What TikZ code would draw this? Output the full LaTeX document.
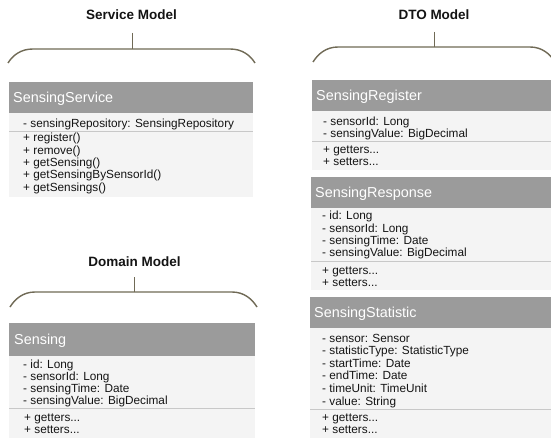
\documentclass[tikz,border=0pt]{standalone}
\usepackage{fontspec}
\setmainfont{Liberation Sans}
\definecolor{headgray}{RGB}{155,155,155}
\definecolor{bodygray}{RGB}{244,244,244}
\definecolor{sepgray}{RGB}{200,200,200}
\definecolor{bracecol}{RGB}{112,106,86}
\definecolor{txt}{RGB}{20,20,20}
\tikzset{
  titletext/.style={font=\bfseries\fontsize{13.5}{15}\selectfont, text=txt, anchor=base, inner sep=0pt},
  headbox/.style={fill=headgray, draw=none, anchor=north west, inner sep=0pt},
  bodybox/.style={fill=bodygray, draw=none, anchor=north west, inner sep=0pt},
  headtext/.style={font=\fontsize{14.4}{16}\selectfont, text=white, anchor=base west, inner sep=0pt},
  linetext/.style={font=\fontsize{11.8}{12.3}\selectfont, text=txt, anchor=base west, inner sep=0pt},
  sepline/.style={draw=sepgray, line width=0.8pt},
  bracepath/.style={draw=bracecol, line width=1.4pt},
  stempath/.style={draw=bracecol, line width=1pt},
}
\begin{document}
\begin{tikzpicture}[x=1pt,y=-1pt]
\path[use as bounding box] (0,0) rectangle (551,438);
\clip (0,0) rectangle (551,438);
\fill[white] (0,0) rectangle (551,438);

% ================= Service Model =================
\node[titletext] (svc-title) at (131.5,19.8) {Service Model};
\coordinate (svc-stem) at (132,33);
\coordinate (svc-top) at (132,49);
\coordinate (svc-bl) at (8,63);
\coordinate (svc-br) at (255,63);
\draw[bracepath] (svc-bl) .. controls (13,55) and (21,49) .. (33,49) -- (230,49) .. controls (242,49) and (250,55) .. (svc-br);
\draw[stempath] (svc-stem) -- (svc-top);

\node[bodybox, minimum width=244pt, minimum height=84pt] (svc-body) at (9,113) {};
\node[headbox, minimum width=244pt, minimum height=31pt] (svc-head) at (9,82) {};
\node[headtext] (svc-name) at (13,102.5) {SensingService};
\node[linetext] (svc-a1) at (23,128) {- sensingRepository: SensingRepository};
\coordinate (svc-s1) at (9,131.5);
\coordinate (svc-s2) at (253,131.5);
\draw[sepline] (svc-s1) -- (svc-s2);
\foreach \t [count=\i] in {+ register(), + remove(), + getSensing(), + getSensingBySensorId(), + getSensings()}
  \node[linetext] (svc-m\i) at (23,{142+(\i-1)*12.3}) {\t};

% ================= Domain Model =================
\node[titletext] (dom-title) at (134.5,266.8) {Domain Model};
\coordinate (dom-stem) at (134,277);
\coordinate (dom-top) at (134,292);
\coordinate (dom-bl) at (10,307);
\coordinate (dom-br) at (257,307);
\draw[bracepath] (dom-bl) .. controls (15,299) and (23,292) .. (35,292) -- (232,292) .. controls (244,292) and (252,299) .. (dom-br);
\draw[stempath] (dom-stem) -- (dom-top);

\node[bodybox, minimum width=246pt, minimum height=90pt] (dom-body) at (9,356) {};
\node[headbox, minimum width=246pt, minimum height=33pt] (dom-head) at (9,323) {};
\node[headtext] (dom-name) at (14,344.5) {Sensing};
\foreach \t [count=\i] in {- id: Long, - sensorId: Long, - sensingTime: Date, - sensingValue: BigDecimal}
  \node[linetext] (dom-a\i) at (23,{368.5+(\i-1)*12.1}) {\t};
\coordinate (dom-s1) at (9,408.5);
\coordinate (dom-s2) at (255,408.5);
\draw[sepline] (dom-s1) -- (dom-s2);
\node[linetext] (dom-m1) at (24,421.5) {+ getters...};
\node[linetext] (dom-m2) at (24,433.5) {+ setters...};

% ================= DTO Model =================
\node[titletext] (dto-title) at (434,19.8) {DTO Model};
\coordinate (dto-stem) at (434,32);
\coordinate (dto-top) at (434,47);
\coordinate (dto-bl) at (313,62);
\coordinate (dto-br) at (555,62);
\draw[bracepath] (dto-bl) .. controls (318,54) and (326,47) .. (338,47) -- (530,47) .. controls (542,47) and (550,54) .. (dto-br);
\draw[stempath] (dto-stem) -- (dto-top);

% SensingRegister
\node[bodybox, minimum width=250pt, minimum height=59pt] (reg-body) at (312,111) {};
\node[headbox, minimum width=250pt, minimum height=31pt] (reg-head) at (312,80) {};
\node[headtext] (reg-name) at (316,100.5) {SensingRegister};
\foreach \t [count=\i] in {- sensorId: Long, - sensingValue: BigDecimal}
  \node[linetext] (reg-a\i) at (323,{125.5+(\i-1)*12}) {\t};
\coordinate (reg-s1) at (312,141.5);
\coordinate (reg-s2) at (560,141.5);
\draw[sepline] (reg-s1) -- (reg-s2);
\node[linetext] (reg-m1) at (323,154) {+ getters...};
\node[linetext] (reg-m2) at (323,166) {+ setters...};

% SensingResponse
\node[bodybox, minimum width=250pt, minimum height=82pt] (rsp-body) at (311,208) {};
\node[headbox, minimum width=250pt, minimum height=31pt] (rsp-head) at (311,177) {};
\node[headtext] (rsp-name) at (315,197.5) {SensingResponse};
\foreach \t [count=\i] in {- id: Long, - sensorId: Long, - sensingTime: Date, - sensingValue: BigDecimal}
  \node[linetext] (rsp-a\i) at (322,{220+(\i-1)*12.3}) {\t};
\coordinate (rsp-s1) at (311,261);
\coordinate (rsp-s2) at (560,261);
\draw[sepline] (rsp-s1) -- (rsp-s2);
\node[linetext] (rsp-m1) at (322,274) {+ getters...};
\node[linetext] (rsp-m2) at (322,286.3) {+ setters...};

% SensingStatistic
\node[bodybox, minimum width=250pt, minimum height=120pt] (sta-body) at (310,328) {};
\node[headbox, minimum width=250pt, minimum height=31pt] (sta-head) at (310,297) {};
\node[headtext] (sta-name) at (314,317.5) {SensingStatistic};
\foreach \t [count=\i] in {- sensor: Sensor, - statisticType: StatisticType, - startTime: Date, - endTime: Date, - timeUnit: TimeUnit, - value: String}
  \node[linetext] (sta-a\i) at (322,{342+(\i-1)*12.6}) {\t};
\coordinate (sta-s1) at (310,409);
\coordinate (sta-s2) at (560,409);
\draw[sepline] (sta-s1) -- (sta-s2);
\node[linetext] (sta-m1) at (322,421) {+ getters...};
\node[linetext] (sta-m2) at (322,433.6) {+ setters...};
\end{tikzpicture}
\end{document}
